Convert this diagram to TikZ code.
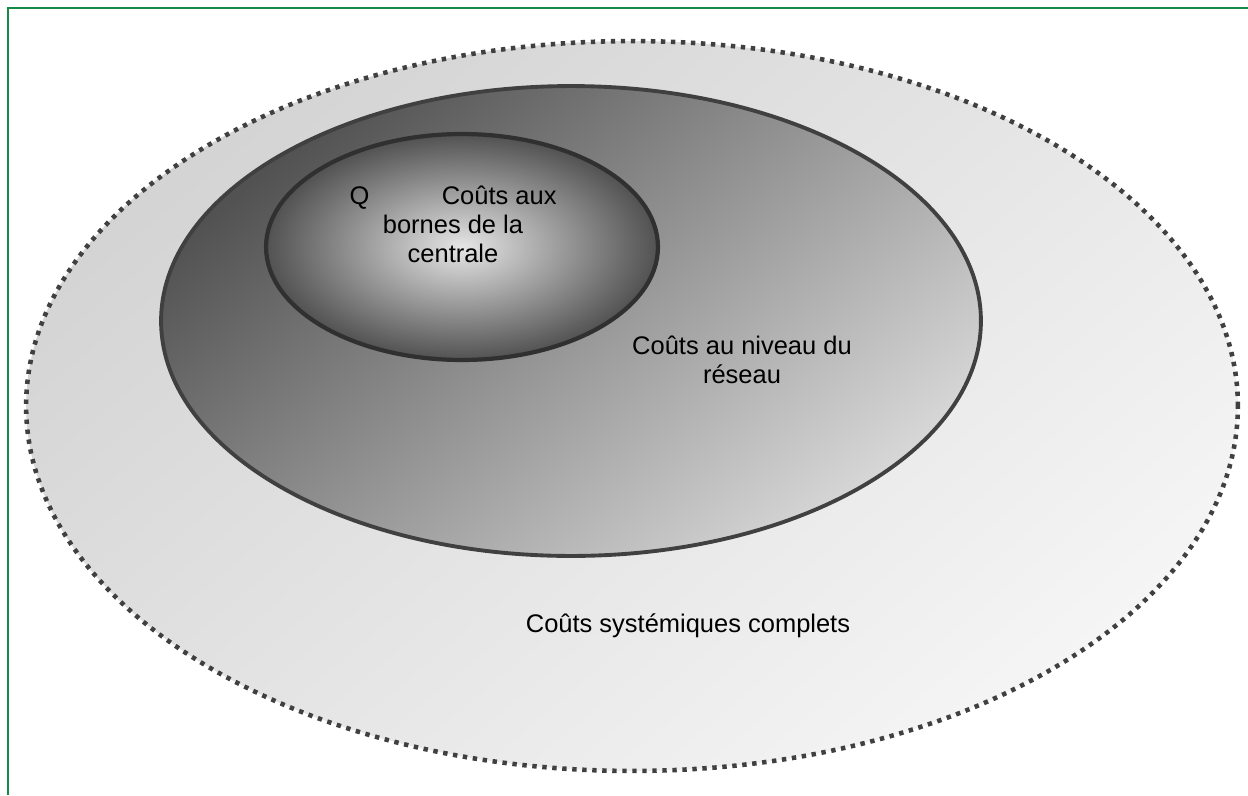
\documentclass[tikz,border=0pt]{standalone}
\usepackage{fontspec}
\setmainfont{Liberation Sans}
\usepackage{tikz}
\usetikzlibrary{positioning}
\usepackage{xcolor}
\definecolor{frameGreen}{RGB}{20, 140, 70}
\definecolor{rimGray}{RGB}{64, 64, 64}
\definecolor{coreRim}{RGB}{48, 48, 48}

\begin{document}
\begin{tikzpicture}[x=0.02cm, y=-0.02cm, font=\fontsize{14.5}{16.5}\selectfont]
  \useasboundingbox (0,0) rectangle (1248,795);
  \draw[frameGreen, line width=1.1pt] (8,795) -- (8,8) -- (1248,8);

  % full system costs
  \shade[top color=black!17, bottom color=black!4, shading angle=40] (632,406) ellipse [x radius=12.12cm, y radius=7.3cm];
  \draw[rimGray, line width=2.6pt, dash pattern=on 2.5pt off 3.2pt] (632,406) ellipse [x radius=12.12cm, y radius=7.3cm];

  % grid level
  \shade[top color=black!68, bottom color=black!16, shading angle=40] (571,321) ellipse [x radius=8.2cm, y radius=4.7cm];
  \draw[rimGray, line width=2.2pt] (571,321) ellipse [x radius=8.2cm, y radius=4.7cm];

  % plant level
  \shade[inner color=black!10, outer color=black!68] (462,247) ellipse [x radius=3.92cm, y radius=2.26cm];
  \draw[coreRim, line width=2.4pt] (462,247) ellipse [x radius=3.92cm, y radius=2.26cm];

  \node[anchor=base, align=center] (plant) at (453,262) {Q\hspace{1.45cm}Coûts aux\\bornes de la\\centrale};
  \node[anchor=base, align=center] (grid) at (742,383) {Coûts au niveau du\\réseau};
  \node[anchor=base] (system) at (688,632) {Coûts systémiques complets};
\end{tikzpicture}
\end{document}
